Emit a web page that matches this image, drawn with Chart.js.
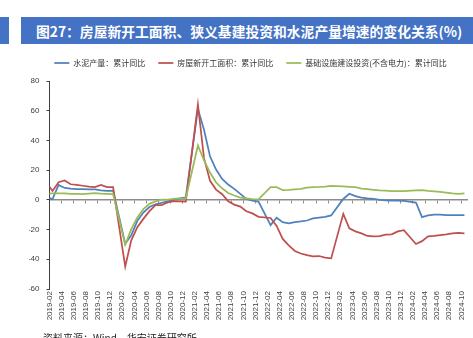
<!DOCTYPE html>
<html>
<head>
<meta charset="utf-8">
<script src="https://cdn.jsdelivr.net/npm/chart.js@4.4.1/dist/chart.umd.min.js"></script>
<style>
  html, body { margin: 0; padding: 0; background: #fff; }
  #wrap { position: relative; width: 473px; height: 338px; overflow: hidden; }
  #chart { position: absolute; left: 0; top: 0; }
  .bar { position: absolute; top: 17px; height: 27px; background: #4472C4; }
  #tab { left: 0; width: 9px; }
  #title { left: 21px; width: 452px; padding: 1px 0 0 15px; box-sizing: border-box;
           color: #fff; font: bold 13.8px "Noto Sans CJK SC"; line-height: 26px; white-space: nowrap; }
  #source { position: absolute; left: 43px; top: 332px; color: #222;
            font: 10px "Noto Sans CJK SC"; line-height: 12px; white-space: nowrap; }
</style>
</head>
<body>
<div id="wrap">
  <canvas id="chart" width="473" height="338"></canvas>
  <div class="bar" id="tab"></div>
  <div class="bar" id="title">图27：房屋新开工面积、狭义基建投资和水泥产量增速的变化关系(%)</div>
  <div id="source">资料来源：Wind，华安证券研究所</div>
</div>
<script>
// Cumulative year-on-year growth (%), Jan-Feb reported together (no January entries)
const months = [
  '2018-12',
  '2019-02','2019-03','2019-04','2019-05','2019-06','2019-07','2019-08','2019-09','2019-10','2019-11','2019-12',
  '2020-02','2020-03','2020-04','2020-05','2020-06','2020-07','2020-08','2020-09','2020-10','2020-11','2020-12',
  '2021-02','2021-03','2021-04','2021-05','2021-06','2021-07','2021-08','2021-09','2021-10','2021-11','2021-12',
  '2022-02','2022-03','2022-04','2022-05','2022-06','2022-07','2022-08','2022-09','2022-10','2022-11','2022-12',
  '2023-02','2023-03','2023-04','2023-05','2023-06','2023-07','2023-08','2023-09','2023-10','2023-11','2023-12',
  '2024-02','2024-03','2024-04','2024-05','2024-06','2024-07','2024-08','2024-09','2024-10'
];

const cementYoY = [
  3.0,
  0.5, 10.0, 8.0, 7.5, 7.2, 7.2, 7.1, 7.0, 6.4, 6.1, 6.2,
  -29.5, -23.9, -14.1, -8.5, -4.8, -3.0, -2.0, -1.0, 0.2, 1.0, 1.6,
  61.1, 47.3, 29.3, 20.4, 14.1, 10.3, 7.4, 4.0, 0.6, -0.5, -1.2,
  -17.0, -12.0, -15.0, -15.8, -15.0, -14.5, -13.9, -12.5, -11.9, -11.4, -10.5,
  0.6, 4.1, 2.5, 1.5, 1.0, 0.6, 0.0, -0.3, -0.5, -0.6, -0.7,
  -1.8, -11.6, -10.5, -10.0, -10.0, -10.2, -10.3, -10.3, -10.3
];

const newStartsYoY = [
  17.2,
  6.0, 11.9, 13.1, 10.5, 10.1, 9.5, 8.9, 8.6, 10.0, 8.6, 8.5,
  -44.9, -27.2, -18.4, -12.8, -7.6, -3.6, -3.6, -1.7, -0.9, -1.0, -1.2,
  64.3, 28.2, 12.8, 6.9, 3.8, -0.9, -3.2, -4.5, -7.7, -9.1, -11.4,
  -12.2, -17.5, -26.3, -30.6, -34.4, -36.1, -37.2, -38.0, -37.8, -38.9, -39.4,
  -9.4, -19.2, -21.2, -22.6, -24.3, -24.5, -24.4, -23.4, -23.2, -21.2, -20.4,
  -29.7, -27.8, -24.6, -24.2, -23.7, -23.2, -22.5, -22.2, -22.6
];

const infraYoY = [
  3.8,
  4.3, 4.4, 4.4, 4.0, 4.1, 3.8, 4.2, 4.5, 4.2, 4.0, 3.8,
  -30.3, -19.7, -11.8, -6.3, -2.7, -1.0, 0.2, 0.2, 0.7, 1.0, 0.9,
  36.6, 26.8, 18.4, 11.8, 7.8, 4.6, 2.9, 1.5, 1.0, 0.5, 0.4,
  8.6, 8.5, 6.5, 6.7, 7.1, 7.4, 8.3, 8.6, 8.7, 8.9, 9.4,
  9.0, 8.8, 8.5, 7.5, 7.2, 6.8, 6.4, 6.2, 5.9, 5.8, 5.9,
  6.3, 6.5, 6.0, 5.7, 5.4, 4.9, 4.4, 4.1, 4.3
];

const seriesNames = ['水泥产量：累计同比', '房屋新开工面积：累计同比', '基础设施建设投资(不含电力)：累计同比'];
const axisFirstMonth = '2019-02';
const axisLastMonth = '2024-10';
const yRange = [-60, 80];
const yStep = 20;

// month string -> month offset from the first axis month
const monthOffset = s => {
  const [y, m] = s.split('-').map(Number);
  const [y0, m0] = axisFirstMonth.split('-').map(Number);
  return (y - y0) * 12 + (m - m0);
};
const monthName = v => {
  const [y0, m0] = axisFirstMonth.split('-').map(Number);
  const t = y0 * 12 + (m0 - 1) + v;
  return Math.floor(t / 12) + '-' + String(t % 12 + 1).padStart(2, '0');
};
// each value sits in the middle of its month slot
const points = vals => months.map((m, i) => ({ x: monthOffset(m) + 0.5, y: vals[i] }));

const xMax = monthOffset(axisLastMonth) + 1;
const everyOtherMonth = scale => {
  const t = [];
  for (let v = 0; v < xMax; v += 2) t.push({ value: v });
  scale.ticks = t;
};

const colors = ['#4F81BD', '#C0504D', '#9BBB59'];
const series = [cementYoY, newStartsYoY, infraYoY];

new Chart(document.getElementById('chart'), {
  type: 'line',
  data: {
    datasets: series.map((vals, i) => ({
      label: seriesNames[i],
      data: points(vals),
      borderColor: colors[i],
      backgroundColor: colors[i],
      borderWidth: 1.75,
      pointRadius: 0,
      tension: 0,
      order: 3 - i
    }))
  },
  options: {
    responsive: false,
    animation: false,
    events: [],
    layout: { padding: { left: 29, right: 1, top: 46, bottom: 0 } },
    plugins: {
      tooltip: { enabled: false },
      legend: {
        position: 'top',
        weight: 1600,
        labels: {
          usePointStyle: true,
          pointStyle: 'line',
          pointStyleWidth: 15,
          padding: 13,
          color: '#333',
          font: { family: '"Noto Sans CJK SC"', size: 8 },
          sort: (a, b) => a.datasetIndex - b.datasetIndex
        }
      },
      // thin gap between the legend and the plot
      subtitle: {
        display: true,
        text: ' ',
        position: 'top',
        weight: 1500,
        font: { size: 1, lineHeight: 1 },
        padding: { top: 0, bottom: 3 }
      }
    },
    scales: {
      x: {
        type: 'linear',
        position: 'bottom',
        min: 0,
        max: xMax,
        afterBuildTicks: everyOtherMonth,
        afterFit: s => { s.height = 49; },
        border: { display: false },
        grid: { display: false, drawTicks: false },
        ticks: {
          autoSkip: false,
          maxRotation: 90,
          minRotation: 90,
          padding: 2,
          color: '#404040',
          font: { family: '"Liberation Sans"', size: 8 },
          callback: v => monthName(v)
        }
      },
      zeroAxis: {
        type: 'linear',
        axis: 'x',
        position: { y: 0 },
        min: 0,
        max: xMax,
        afterBuildTicks: everyOtherMonth,
        border: { display: true, color: '#8c8c8c', width: 1.5 },
        grid: { display: true, drawOnChartArea: false, drawTicks: true, tickLength: 3, color: '#8c8c8c', lineWidth: 1 },
        ticks: { display: false }
      },
      y: {
        type: 'linear',
        position: 'left',
        min: yRange[0],
        max: yRange[1],
        afterFit: s => { s.width = 20.5; },
        border: { display: true, color: '#404040', width: 1 },
        grid: { display: true, drawOnChartArea: false, drawTicks: true, tickLength: 3, color: '#404040' },
        ticks: {
          stepSize: yStep,
          padding: 7,
          color: '#404040',
          font: { family: '"Liberation Sans"', size: 8 }
        }
      }
    }
  }
});
</script>
</body>
</html>
